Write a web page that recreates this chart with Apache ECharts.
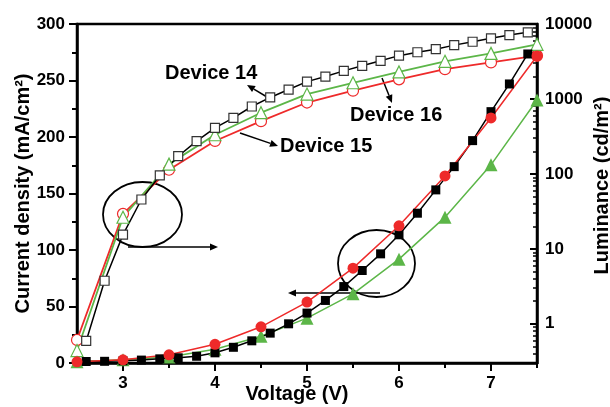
<!DOCTYPE html>
<html>
<head>
<meta charset="utf-8">
<script src="https://cdn.jsdelivr.net/npm/echarts@6/dist/echarts.min.js"></script>
<style>
  html, body { margin: 0; padding: 0; background: #fff; }
  #chart { width: 610px; height: 407px; }
</style>
</head>
<body>
<div id="chart"></div>
<script>
  // Device 14 measured every 0.2 V, devices 15 / 16 every 0.5 V
  const voltD14 = [2.6, 2.8, 3.0, 3.2, 3.4, 3.6, 3.8, 4.0, 4.2, 4.4, 4.6, 4.8, 5.0,
    5.2, 5.4, 5.6, 5.8, 6.0, 6.2, 6.4, 6.6, 6.8, 7.0, 7.2, 7.4];
  const voltD15 = [2.5, 3.0, 3.5, 4.0, 4.5, 5.0, 5.5, 6.0, 6.5, 7.0, 7.5];
  const voltD16 = [2.5, 3.0, 3.5, 4.0, 4.5, 5.0, 5.5, 6.0, 6.5, 7.0, 7.5];

  // current density (mA/cm2)
  const curD14 = [19.5, 72.8, 113.6, 144.7, 166, 183, 196.4, 208, 217, 227, 235, 242, 249,
    253.5, 258.5, 263, 267.4, 272, 275, 277.7, 281.3, 284.3, 287.3, 290.2, 292.6];
  const curD15 = [20.4, 132, 171, 196.5, 214, 230.5, 241, 251, 260, 266, 272];
  const curD16 = [11, 129, 176, 202, 221.5, 238, 248, 257.6, 267, 274, 282];

  // luminance (cd/m2)
  const lumD14 = [0.314, 0.316, 0.321, 0.328, 0.341, 0.352, 0.369, 0.41, 0.486, 0.593, 0.751, 1.0, 1.39,
    2.05, 3.14, 5.14, 8.58, 15.4, 29.9, 61.2, 125, 278, 677, 1585, 3981];
  const lumD15 = [0.311, 0.331, 0.386, 0.533, 0.912, 1.95, 5.53, 20.3, 94, 558, 3743];
  const lumD16 = [0.311, 0.331, 0.36, 0.457, 0.681, 1.19, 2.51, 7.29, 26.5, 132, 970];

  const xMajorTicks = [3, 4, 5, 6, 7];
  const xMinorTicks = [2.5, 3.5, 4.5, 5.5, 6.5, 7.5];
  const lumDecades = [1, 10, 100, 1000, 10000];
  const lumMin = 0.3;
  const lumMax = 10000;

  const RED = '#ee2a2a';
  const GREEN = '#5cb648';
  const FONT = 'Liberation Sans, Arial, sans-serif';

  const lg = v => Math.log10(v);
  const pairs = (xs, ys, f) => xs.map((x, i) => [x, f ? f(ys[i]) : ys[i]]);

  // minor log ticks 2..9 inside each decade
  const lumMinor = [];
  [0.1, 1, 10, 100, 1000].forEach(d => {
    for (let k = 2; k <= 9; k++) {
      const v = k * d;
      if (v >= lumMin && v <= lumMax) lumMinor.push(lg(v));
    }
  });

  function arrow(x1, y1, x2, y2) {
    const a = Math.atan2(y2 - y1, x2 - x1);
    const L = 8, W = 3.5;
    const bx = x2 - L * Math.cos(a), by = y2 - L * Math.sin(a);
    return [
      { type: 'line', shape: { x1: x1, y1: y1, x2: bx, y2: by },
        style: { stroke: '#000', lineWidth: 1.5 } },
      { type: 'polygon',
        shape: { points: [[x2, y2], [bx + W * Math.sin(a), by - W * Math.cos(a)], [bx - W * Math.sin(a), by + W * Math.cos(a)]] },
        style: { fill: '#000' } }
    ];
  }

  function label(text, x, y) {
    return { type: 'text', x: x, y: y,
      style: { text: text, font: 'bold 20px ' + FONT, fill: '#000', verticalAlign: 'middle' } };
  }

  function ring(cx, cy, rx, ry) {
    return { type: 'ellipse', shape: { cx: cx, cy: cy, rx: rx, ry: ry },
      style: { fill: null, stroke: '#000', lineWidth: 1.8 } };
  }

  const axisLineStyle = { color: '#000', width: 2.5 };
  const tickLabel = { color: '#000', fontSize: 17, fontWeight: 'bold', fontFamily: FONT };
  const nameStyle = { color: '#000', fontSize: 20, fontWeight: 'bold', fontFamily: FONT };

  const option = {
    animation: false,
    backgroundColor: '#fff',
    grid: {
      left: 77, right: 73, top: 24, bottom: 44, containLabel: false, outerBoundsMode: 'none',
      show: true, borderColor: '#000', borderWidth: 2.5
    },
    xAxis: [
      {
        type: 'value', position: 'bottom', min: 2.5, max: 7.5,
        name: 'Voltage (V)', nameLocation: 'middle', nameGap: 21, nameMoveOverlap: false,
        nameTextStyle: Object.assign({ padding: [0, 20, 0, 0] }, nameStyle),
        axisLine: { onZero: false, lineStyle: axisLineStyle },
        axisTick: { customValues: xMajorTicks, length: 8, lineStyle: { color: '#000', width: 2 } },
        axisLabel: Object.assign({ customValues: xMajorTicks, margin: 12 }, tickLabel),
        splitLine: { show: false }
      },
      {
        type: 'value', position: 'bottom', min: 2.5, max: 7.5,
        axisLine: { show: false, onZero: false },
        axisTick: { customValues: xMinorTicks, length: 5, lineStyle: { color: '#000', width: 2 } },
        axisLabel: { show: false },
        splitLine: { show: false }
      }
    ],
    yAxis: [
      {
        type: 'value', position: 'left', min: 0, max: 300, interval: 50,
        name: 'Current density (mA/cm²)', nameLocation: 'middle', nameGap: 44, nameRotate: 90,
        nameMoveOverlap: false,
        nameTextStyle: nameStyle,
        axisLine: { show: true, onZero: false, lineStyle: axisLineStyle },
        axisTick: { show: true, length: 8, lineStyle: { color: '#000', width: 2 } },
        minorTick: { show: true, splitNumber: 2, length: 5, lineStyle: { color: '#000', width: 2 } },
        axisLabel: Object.assign({ margin: 12 }, tickLabel),
        splitLine: { show: false }
      },
      {
        type: 'value', position: 'right', min: lg(lumMin), max: lg(lumMax),
        name: 'Luminance (cd/m²)', nameLocation: 'middle', nameGap: 55, nameRotate: 90,
        nameMoveOverlap: false,
        nameTextStyle: Object.assign({ padding: [0, 0, 0, 16] }, nameStyle),
        axisLine: { show: true, onZero: false, lineStyle: axisLineStyle },
        axisTick: { show: true, inside: true, customValues: lumDecades.map(lg), length: 7, lineStyle: { color: '#000', width: 2 } },
        axisLabel: Object.assign({
          customValues: lumDecades.map(lg), margin: 8,
          formatter: v => String(Math.round(Math.pow(10, v)))
        }, tickLabel),
        splitLine: { show: false }
      },
      {
        type: 'value', position: 'right', min: lg(lumMin), max: lg(lumMax),
        axisLine: { show: false, onZero: false },
        axisTick: { show: true, inside: true, customValues: lumMinor, length: 4, lineStyle: { color: '#000', width: 1.5 } },
        axisLabel: { show: false },
        splitLine: { show: false }
      }
    ],
    series: [
      {
        name: 'Device 15 J', type: 'line', yAxisIndex: 0, data: pairs(voltD15, curD15),
        symbol: 'circle', symbolSize: 11,
        itemStyle: { color: '#fff', borderColor: RED, borderWidth: 1.2 },
        lineStyle: { color: RED, width: 1.8 }
      },
      {
        name: 'Device 16 J', type: 'line', yAxisIndex: 0, data: pairs(voltD16, curD16),
        symbol: 'triangle', symbolSize: 12,
        itemStyle: { color: '#fff', borderColor: GREEN, borderWidth: 1.2 },
        lineStyle: { color: GREEN, width: 1.8 }
      },
      {
        name: 'Device 14 J', type: 'line', yAxisIndex: 0, data: pairs(voltD14, curD14),
        symbol: 'rect', symbolSize: 9,
        itemStyle: { color: '#fff', borderColor: '#333', borderWidth: 1.2 },
        lineStyle: { color: '#000', width: 1.5 }
      },
      {
        name: 'Device 16 L', type: 'line', yAxisIndex: 1, data: pairs(voltD16, lumD16, lg),
        symbol: 'triangle', symbolSize: 13,
        itemStyle: { color: GREEN },
        lineStyle: { color: GREEN, width: 1.5 }
      },
      {
        name: 'Device 14 L', type: 'line', yAxisIndex: 1, data: pairs(voltD14, lumD14, lg),
        symbol: 'rect', symbolSize: 9,
        itemStyle: { color: '#000' },
        lineStyle: { color: '#000', width: 1.5 }
      },
      {
        name: 'Device 15 L', type: 'line', yAxisIndex: 1, data: pairs(voltD15, lumD15, lg),
        symbol: 'circle', symbolSize: 11,
        itemStyle: { color: RED },
        lineStyle: { color: RED, width: 1.5 }
      }
    ],
    graphic: [
      label('Device 14', 165, 73),
      label('Device 16', 350, 115),
      label('Device 15', 280, 146),
      ...arrow(267, 97, 247, 85),
      ...arrow(382, 78, 392, 103),
      ...arrow(240, 133, 278, 146),
      ring(142.5, 214.5, 39.5, 32.5),
      ...arrow(128, 247, 218, 247),
      ring(376.5, 263.5, 38.5, 33.5),
      ...arrow(380, 293, 288, 293)
    ]
  };

  const chart = echarts.init(document.getElementById('chart'));
  chart.setOption(option);
</script>
</body>
</html>
